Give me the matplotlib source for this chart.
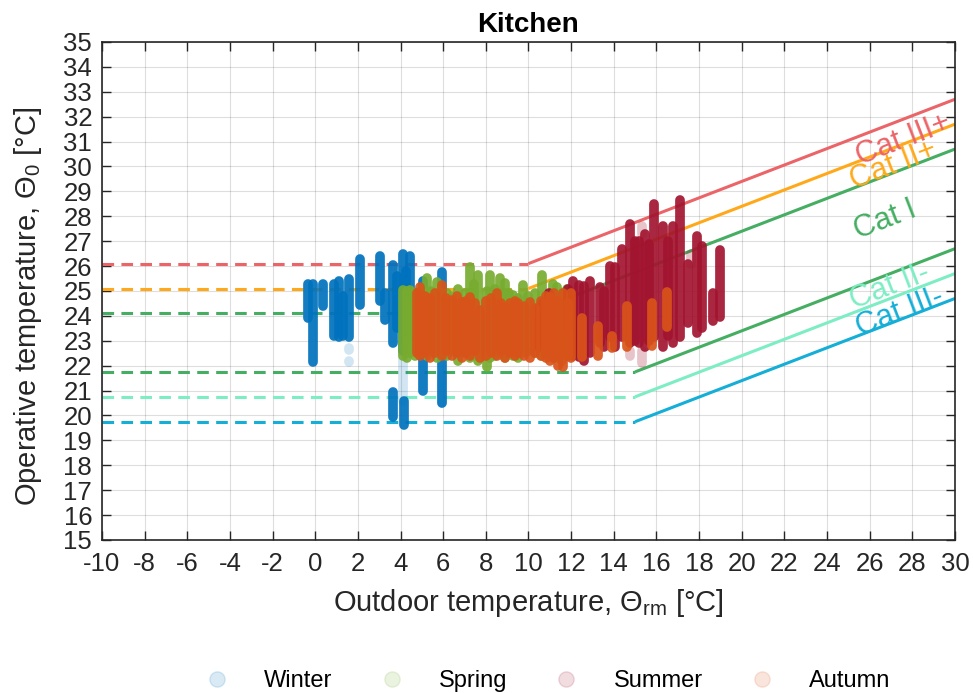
import numpy as np
import matplotlib
matplotlib.use('Agg')
import matplotlib.pyplot as plt
from matplotlib.lines import Line2D

plt.rcParams['font.family'] = ['Liberation Sans', 'DejaVu Sans']
plt.rcParams['mathtext.fontset'] = 'custom'
plt.rcParams['mathtext.rm'] = 'Liberation Sans'
plt.rcParams['mathtext.it'] = 'Liberation Sans:italic'
plt.rcParams['mathtext.bf'] = 'Liberation Sans:bold'
plt.rcParams['axes.unicode_minus'] = False

# --- data (columns of hourly points: x, lowest y, highest y) ---
seasons = ['Winter', 'Spring', 'Summer', 'Autumn']
season_colors = ['#0072BD', '#77AC30', '#A2142F', '#D95319']

winter_x = [-0.35, -0.1, 0.36, 0.9, 1.1, 1.3, 1.6, 2.1, 3.04, 3.27, 3.65, 3.85, 3.65, 4.1, 4.25, 4.15, 4.44, 5.05, 5.94]
winter_lo = [23.9, 22.15, 24.4, 23.2, 23.15, 23.2, 23.15, 24.45, 24.6, 23.85, 22.9, 23.5, 19.95, 22.6, 23.0, 19.6, 23.15, 21.0, 20.5]
winter_hi = [25.3, 25.3, 25.3, 25.3, 25.4, 24.8, 25.5, 26.3, 26.4, 24.9, 26.05, 25.6, 20.95, 26.5, 25.8, 20.6, 26.4, 25.4, 25.75]
winter_faint_x = [1.6, 1.6, 4.1, 5.94]
winter_faint_lo = [22.15, 22.65, 20.6, 20.5]
winter_faint_hi = [22.2, 22.7, 22.6, 21.6]

spring_x = [4.13, 4.3, 4.44, 4.7, 5.0, 5.22, 5.45, 5.69, 5.9, 6.16, 6.4, 6.71, 7.0, 7.26, 7.45, 7.65, 8.04,
            8.19, 8.45, 8.66, 8.9, 9.1, 9.29, 9.5, 9.74, 10.0, 10.3, 10.62, 10.9, 11.15, 11.32, 11.55, 11.79, 11.95]
spring_lo = [22.4, 22.3, 22.5, 22.4, 22.5, 22.4, 22.6, 22.3, 22.5, 22.4, 22.6, 22.2, 22.5, 22.3, 22.4, 22.2, 21.95,
             22.3, 22.4, 22.5, 22.3, 22.5, 22.4, 22.3, 22.5, 22.6, 22.5, 22.4, 22.6, 22.3, 22.5, 22.2, 22.4, 22.5]
spring_hi = [25.04, 25.0, 25.04, 24.9, 25.1, 25.51, 25.0, 25.37, 24.9, 24.91, 24.8, 25.1, 24.9, 25.98, 25.3, 25.64, 25.0,
             25.64, 25.1, 25.51, 25.31, 24.9, 24.84, 24.7, 25.24, 24.8, 24.9, 25.64, 24.5, 25.3, 25.17, 24.9, 25.1, 23.97]

summer_x = [10.5, 10.7, 10.95, 11.05, 11.85, 12.1, 12.35, 12.6, 12.9, 13.35, 13.55, 13.8, 14.05, 14.4, 14.75, 15.0,
            15.2, 15.45, 15.65, 15.9, 16.3, 16.55, 16.8, 17.1, 17.5, 17.9, 18.15, 18.65, 19.0]
summer_lo = [22.75, 22.9, 23.15, 22.75, 23.4, 22.4, 22.35, 22.2, 22.5, 22.9, 22.75, 23.15, 22.75, 23.15, 22.9, 23.0,
             22.9, 22.75, 23.0, 23.15, 22.75, 23.2, 22.9, 23.15, 23.7, 23.3, 23.5, 23.8, 23.95]
summer_hi = [24.3, 24.5, 24.9, 24.7, 25.1, 25.4, 25.24, 25.2, 25.4, 25.15, 25.0, 26.0, 25.97, 26.7, 27.7, 27.0,
             27.0, 27.3, 26.9, 28.5, 27.6, 27.0, 27.6, 28.65, 26.1, 27.2, 26.8, 24.9, 26.65]
summer_faint_x = [15.3, 15.3, 17.6, 14.75]
summer_faint_lo = [27.3, 22.1, 26.1, 22.4]
summer_faint_hi = [27.6, 22.6, 26.5, 22.6]

autumn_x = [4.75, 4.91, 5.15, 5.38, 5.6, 5.93, 6.15, 6.4, 6.65, 6.87, 7.05, 7.26, 7.5, 7.73, 8.0, 8.25, 8.51, 8.7,
            8.9, 9.15, 9.35, 9.52, 9.8, 10.07, 10.3, 10.6, 10.8, 11.0, 11.2, 11.4, 11.63, 11.85, 12.0,
            12.5, 13.26, 13.9, 14.6, 15.8, 16.5]
autumn_lo = [22.5, 22.4, 22.5, 22.3, 22.5, 22.4, 22.6, 22.4, 22.5, 22.3, 22.5, 22.4, 22.6, 22.3, 22.4, 22.5, 22.4, 22.6,
             22.3, 22.5, 22.4, 22.5, 22.4, 22.3, 22.5, 22.4, 22.3, 22.2, 22.3, 22.0, 21.96, 22.4, 22.3,
             22.35, 22.4, 22.7, 22.75, 22.8, 23.55]
autumn_hi = [24.9, 25.17, 24.8, 24.7, 24.9, 25.24, 24.7, 24.64, 24.8, 24.57, 24.6, 24.77, 24.5, 24.24, 24.6, 24.7, 24.91, 24.5,
             24.37, 24.5, 24.6, 24.5, 24.4, 24.57, 24.3, 24.6, 24.8, 24.77, 24.9, 24.6, 24.91, 24.5, 24.9,
             23.9, 23.6, 23.2, 24.4, 24.5, 24.95]

# comfort category limits: dashed part (-10..x_start, flat) and sloped part (x_start..x_end)
cat_names = ['Cat III+', 'Cat II+', 'Cat I', 'Cat I-', 'Cat II-', 'Cat III-']
cat_colors = ['#EB6468', '#FFA91A', '#45AE62', '#45AE62', '#7DEDC4', '#14AED6']
cat_x_start = [10, 10, 10, 15, 15, 15]
cat_y_start = [26.1, 25.1, 24.1, 21.75, 20.75, 19.75]
cat_x_end = [30, 30, 30, 30, 30, 30]
cat_y_end = [32.7, 31.7, 30.7, 26.7, 25.7, 24.7]

label_text = ['Cat III+', 'Cat II+', 'Cat I', 'Cat II-', 'Cat III-']
label_colors = ['#EB6468', '#FFA91A', '#45AE62', '#7DEDC4', '#14AED6']
label_x = [27.58, 27.1, 26.72, 26.95, 27.42]
label_y = [31.06, 30.06, 27.85, 25.17, 24.17]

fig = plt.figure(figsize=(9.73, 6.93), dpi=100)
ax = fig.add_axes([0.1048, 0.2208, 0.8767, 0.7186])

for i in range(len(cat_names)):
    ax.plot([-10, cat_x_start[i]], [cat_y_start[i], cat_y_start[i]], color=cat_colors[i],
            lw=2.2, linestyle=(0, (3.8, 2.4)), zorder=2)
    ax.plot([cat_x_start[i], cat_x_end[i]], [cat_y_start[i], cat_y_end[i]], color=cat_colors[i],
            lw=2.2, zorder=2, solid_capstyle='butt')

col_lw = 7
ax.vlines(winter_faint_x, winter_faint_lo, winter_faint_hi, color=season_colors[0], lw=col_lw, alpha=0.18,
          capstyle='round', zorder=3)
ax.vlines(winter_x, winter_lo, winter_hi, color=season_colors[0], lw=col_lw, alpha=0.92, capstyle='round', zorder=3)
ax.vlines(spring_x, spring_lo, spring_hi, color=season_colors[1], lw=col_lw, alpha=0.92, capstyle='round', zorder=4)
ax.vlines(summer_faint_x, summer_faint_lo, summer_faint_hi, color=season_colors[2], lw=col_lw, alpha=0.25,
          capstyle='round', zorder=5)
ax.vlines(summer_x, summer_lo, summer_hi, color=season_colors[2], lw=col_lw, alpha=0.92, capstyle='round', zorder=5)
ax.vlines(autumn_x, autumn_lo, autumn_hi, color=season_colors[3], lw=col_lw, alpha=0.92, capstyle='round', zorder=6)

slope = (cat_y_end[0] - cat_y_start[0]) / (cat_x_end[0] - cat_x_start[0])
angle = np.degrees(np.arctan(slope))
for t, c, x, y in zip(label_text, label_colors, label_x, label_y):
    ax.text(x, y, t, color=c, fontsize=22, rotation=angle, rotation_mode='anchor',
            transform_rotates_text=True, ha='center', va='center', zorder=7)

ax.set_xlim(-10, 30)
ax.set_ylim(15, 35)
ax.set_xticks(np.arange(-10, 31, 2))
ax.set_yticks(np.arange(15, 36, 1))
ax.grid(True, color='#262626', alpha=0.15, lw=0.8)
ax.set_axisbelow(True)
ax.tick_params(direction='in', length=6.5, width=1, top=True, right=True,
               labelsize=18.5, colors='#262626')
ax.tick_params(axis='x', pad=9)
ax.tick_params(axis='y', pad=7)
for s in ax.spines.values():
    s.set_color('#262626')
    s.set_linewidth(1.2)

ax.set_xlabel(r'Outdoor temperature, $\Theta_{\mathrm{rm}}$ [°C]', fontsize=21, color='#262626')
ax.set_ylabel(r'Operative temperature, $\Theta_{0}$ [°C]', fontsize=21, color='#262626')
ax.xaxis.set_label_coords(0.5, -0.095)
ax.yaxis.set_label_coords(-0.068, 0.47)
ax.set_title('Kitchen', fontsize=20, fontweight='bold', pad=7)

handles = [Line2D([], [], marker='o', ls='none', markersize=11, color=c, alpha=0.15) for c in season_colors]
fig.legend(handles, seasons, loc='center', bbox_to_anchor=(0.557, 0.017), ncol=4, frameon=False,
           fontsize=17, handletextpad=1.0, columnspacing=1.5)

fig.savefig('out.png', dpi=100)
